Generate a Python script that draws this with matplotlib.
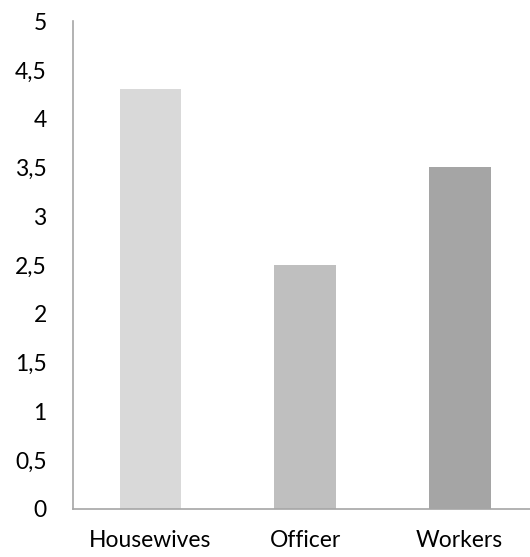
import matplotlib
matplotlib.use("Agg")
import matplotlib.pyplot as plt
from matplotlib.ticker import FuncFormatter, MultipleLocator

categories = ["Housewives", "Officer", "Workers"]
values = [4.3, 2.5, 3.5]
colors = ["#D9D9D9", "#BFBFBF", "#A5A5A5"]

plt.rcParams['font.family'] = ['Lato', 'DejaVu Sans']

fig = plt.figure(figsize=(5.30, 5.57), dpi=100)
ax = fig.add_axes([0.138, 0.0862, 0.875, 0.876])

x = range(len(categories))
ax.bar(x, values, width=0.4, color=colors)

ax.set_xlim(-0.5, 2.5)
ax.set_ylim(0, 5)
ax.yaxis.set_major_locator(MultipleLocator(0.5))
ax.yaxis.set_major_formatter(FuncFormatter(lambda v, p: f"{v:g}".replace(".", ",")))
ax.set_xticks(list(x))
ax.set_xticklabels(categories)

for s in ["top", "right"]:
    ax.spines[s].set_visible(False)
for s in ["left", "bottom"]:
    ax.spines[s].set_color("#A6A6A6")
    ax.spines[s].set_linewidth(1.2)

ax.tick_params(axis="y", length=0, pad=19, labelsize=16.5, labelcolor="#000000")
ax.tick_params(axis="x", length=0, pad=15, labelsize=16.5, labelcolor="#000000")

fig.savefig("out.png", dpi=100)
